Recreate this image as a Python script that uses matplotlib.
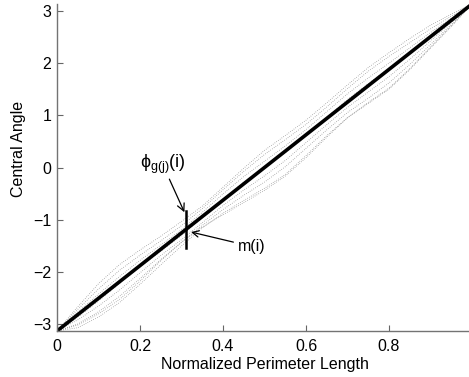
import numpy as np
import matplotlib
matplotlib.use("Agg")
import matplotlib.pyplot as plt

plt.rcParams['font.family'] = ['Liberation Sans', 'DejaVu Sans']
plt.rcParams['mathtext.fontset'] = 'custom'
plt.rcParams['mathtext.rm'] = 'Liberation Sans'
plt.rcParams['mathtext.it'] = 'Liberation Sans'

# normalized perimeter positions
x_pos = [0.0, 0.05, 0.10, 0.15, 0.20, 0.25, 0.30, 0.35, 0.40, 0.45, 0.50,
         0.55, 0.60, 0.65, 0.70, 0.75, 0.80, 0.85, 0.90, 0.95, 1.0]

# mean curve m(i): endpoints
mean_x = [0.0, 1.0]
mean_y = [-np.pi, np.pi]

# individual contours: offset of central angle from mean curve (radians)
dev1 = [0, .15, .28, .33, .30, .25, .22, .20, .25, .30, .33, .30, .28, .30, .33, .35, .32, .28, .22, .12, 0]
dev2 = [0, .10, .18, .22, .20, .16, .14, .15, .20, .24, .25, .22, .20, .22, .26, .28, .25, .20, .15, .08, 0]
dev3 = [0, .05, .08, .10, .10, .08, .06, .08, .12, .14, .12, .10, .10, .13, .16, .15, .12, .10, .08, .04, 0]
dev4 = [0, -.05, -.05, -.03, -.02, -.04, -.05, -.02, .02, .03, .0, -.03, -.02, .02, .05, .04, .02, .0, -.02, -.01, 0]
dev5 = [0, -.10, -.15, -.16, -.14, -.12, -.13, -.12, -.10, -.12, -.16, -.18, -.15, -.12, -.10, -.12, -.14, -.12, -.08, -.04, 0]
dev6 = [0, -.18, -.26, -.28, -.25, -.20, -.18, -.17, -.18, -.22, -.28, -.30, -.26, -.22, -.20, -.24, -.26, -.22, -.15, -.08, 0]
dev7 = [0, -.25, -.36, -.40, -.36, -.30, -.25, -.22, -.25, -.32, -.40, -.45, -.40, -.33, -.30, -.34, -.38, -.32, -.22, -.12, 0]
dev8 = [0, -.20, -.30, -.34, -.30, -.22, -.18, -.20, -.28, -.36, -.44, -.48, -.44, -.36, -.30, -.32, -.36, -.30, -.20, -.10, 0]
devs = [dev1, dev2, dev3, dev4, dev5, dev6, dev7, dev8]

# marked sample i
sample_x = 0.311
sample_lo = -1.54
sample_hi = -0.84

xticks = [0, 0.2, 0.4, 0.6, 0.8, 1]
xticklabels = ['0', '0.2', '0.4', '0.6', '0.8', '']
yticks = [-3, -2, -1, 0, 1, 2, 3]
yticklabels = ['\u22123', '\u22122', '\u22121', '0', '1', '2', '3']

FS = 11.5

fig = plt.figure(figsize=(4.69, 3.77), dpi=100)
ax = fig.add_axes([57/469, 46/377, 415/469, 327/377])

xp = np.array(x_pos)
base = np.interp(xp, mean_x, mean_y)
for d in devs:
    ax.plot(xp, base + np.array(d), color='0.45', lw=0.55,
            linestyle=(0, (0.8, 2.0)))

ax.plot(mean_x, mean_y, color='black', lw=2.6, solid_capstyle='butt')
ax.plot([sample_x, sample_x], [sample_lo, sample_hi], color='black', lw=1.8)

ax.annotate(r'$\phi_{g(j)}(i)$', xy=(sample_x - 0.004, sample_hi - 0.02),
            xytext=(0.2, -0.17), textcoords='data', fontsize=13,
            ha='left', va='bottom',
            arrowprops=dict(arrowstyle='->', color='black', lw=0.9,
                            shrinkA=0, shrinkB=0))
ax.annotate('m(i)', xy=(sample_x + 0.012, -1.24),
            xytext=(0.435, -1.66), textcoords='data', fontsize=FS,
            ha='left', va='bottom',
            arrowprops=dict(arrowstyle='->', color='black', lw=0.9,
                            shrinkA=1, shrinkB=0))

ax.set_xlim(0, 1)
ax.set_ylim(-np.pi, np.pi)
ax.set_xticks(xticks)
ax.set_xticklabels(xticklabels)
ax.set_yticks(yticks)
ax.set_yticklabels(yticklabels)
ax.tick_params(direction='in', length=4, width=0.8, color='0.4', labelsize=FS)
ax.tick_params(axis='x', pad=6)
ax.tick_params(axis='y', pad=4)
for s in ['top', 'right']:
    ax.spines[s].set_visible(False)
for s in ['left', 'bottom']:
    ax.spines[s].set_color('0.45')
    ax.spines[s].set_linewidth(1.0)
ax.set_xlabel('Normalized Perimeter Length', fontsize=FS, labelpad=2)
ax.set_ylabel('Central Angle', fontsize=FS)
ax.yaxis.set_label_coords(-0.075, 0.556)

fig.savefig('out.png', dpi=100)
